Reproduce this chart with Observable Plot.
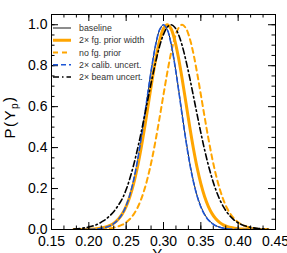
<!DOCTYPE html>
<html>
<head>
<meta charset="utf-8">
<script src="https://cdn.jsdelivr.net/npm/d3@7"></script>
<script src="https://cdn.jsdelivr.net/npm/@observablehq/plot@0.6"></script>
<style>
  body { margin: 0; background: #fff; }
  svg { overflow: visible; }
</style>
</head>
<body>
<div id="chart"></div>
<script>
// ---- data ----
const xs = [0.18,0.185,0.19,0.195,0.20,0.205,0.21,0.215,0.22,0.225,0.23,0.235,0.24,0.245,0.25,0.255,0.26,0.265,0.27,0.275,0.28,0.285,0.29,0.295,0.30,0.305,0.31,0.315,0.32,0.325,0.33,0.335,0.34,0.345,0.35,0.355,0.36,0.365,0.37,0.375,0.38,0.385,0.39,0.395,0.40,0.405,0.41,0.415,0.42,0.425,0.43,0.435,0.44];

const baseline = [0,0,0,0.0002,0.0005,0.001,0.002,0.004,0.007,0.012,0.019,0.031,0.048,0.075,0.113,0.166,0.238,0.329,0.439,0.562,0.690,0.810,0.911,0.977,1.0,0.977,0.911,0.810,0.690,0.562,0.439,0.329,0.238,0.166,0.113,0.075,0.048,0.031,0.019,0.012,0.007,0.004,0.002,0.001,0.0005,0.0002,0,0,0,0,0,0,0];

const fgWide = [0,0,0.0002,0.0005,0.001,0.002,0.0035,0.006,0.0096,0.0147,0.0227,0.0346,0.052,0.0775,0.113,0.161,0.224,0.3025,0.397,0.504,0.620,0.735,0.840,0.925,0.981,1.0,0.981,0.925,0.840,0.735,0.620,0.504,0.397,0.3025,0.224,0.161,0.113,0.0775,0.052,0.0346,0.0227,0.0147,0.0096,0.006,0.0035,0.002,0.001,0.0005,0.0002,0,0,0,0];

const noFgPrior = [0,0,0,0,0,0.0003,0.0006,0.0012,0.0022,0.004,0.0065,0.0105,0.0158,0.0235,0.0349,0.051,0.074,0.105,0.147,0.202,0.270,0.352,0.447,0.551,0.659,0.765,0.860,0.935,0.983,1.0,0.983,0.935,0.860,0.765,0.659,0.551,0.447,0.352,0.270,0.202,0.147,0.105,0.074,0.051,0.0349,0.0235,0.0158,0.0105,0.0065,0.004,0.0022,0.0012,0.0006];

const calib2x = [0,0,0,0.0002,0.0006,0.0012,0.0023,0.0045,0.008,0.013,0.021,0.033,0.051,0.078,0.116,0.170,0.242,0.333,0.443,0.565,0.692,0.811,0.911,0.977,1.0,0.976,0.909,0.807,0.686,0.557,0.434,0.324,0.234,0.163,0.110,0.073,0.047,0.030,0.018,0.011,0.0065,0.0037,0.002,0.001,0.0005,0.0002,0,0,0,0,0,0,0];

const beam2x = [0.002,0.0035,0.0055,0.0085,0.012,0.017,0.023,0.032,0.043,0.057,0.074,0.095,0.121,0.152,0.195,0.250,0.315,0.390,0.473,0.562,0.653,0.743,0.826,0.898,0.953,0.988,1.0,0.988,0.953,0.898,0.826,0.743,0.653,0.562,0.473,0.390,0.315,0.250,0.195,0.149,0.113,0.084,0.062,0.045,0.0326,0.0234,0.0167,0.0119,0.0085,0.0058,0.0038,0.0024,0.0014];

const seriesNames = ["baseline", "2\u00d7 fg. prior width", "no fg. prior", "2\u00d7 calib. uncert.", "2\u00d7 beam uncert."];
const seriesValues = [baseline, fgWide, noFgPrior, calib2x, beam2x];

const xTickValues = [0.15, 0.20, 0.25, 0.30, 0.35, 0.40, 0.45];
const yTickValues = [0.0, 0.2, 0.4, 0.6, 0.8, 1.0];

// ---- styles ----
const styles = [
  {stroke: "#1a1a1a", width: 1.0, dash: null},
  {stroke: "#FFA500", width: 3.0, dash: null},
  {stroke: "#FFA500", width: 2.0, dash: "5,4"},
  {stroke: "#1d56d6", width: 1.6, dash: "5,3"},
  {stroke: "#000000", width: 1.6, dash: "6,3,1.5,3"}
];

const rows = seriesNames.flatMap((name, i) => xs.map((x, j) => ({series: name, x, y: seriesValues[i][j]})));

const W = 287, H = 253, mL = 51, mR = 12, mT = 14, mB = 24;
const fw = W - mL - mR, fh = H - mT - mB;
const majorLen = 7, minorLen = 3.5;
const xMinor = d3.range(0, 19).map(i => 0.15 + i * 0.05 / 3);
const yMinor = d3.range(0, 22).map(i => i * 0.05).filter(v => v <= 1.05);

const lineMarks = seriesNames.map((name, i) => Plot.line(rows.filter(r => r.series === name), {
  x: "x", y: "y",
  stroke: styles[i].stroke,
  strokeWidth: styles[i].width,
  strokeDasharray: styles[i].dash,
  curve: "catmull-rom",
  clip: true
}));

const tickMarks = [
  Plot.tickX(xTickValues, {x: d => d, insetTop: fh - majorLen, stroke: "#000"}),
  Plot.tickX(xTickValues, {x: d => d, insetBottom: fh - majorLen, stroke: "#000"}),
  Plot.tickX(xMinor, {x: d => d, insetTop: fh - minorLen, stroke: "#000"}),
  Plot.tickX(xMinor, {x: d => d, insetBottom: fh - minorLen, stroke: "#000"}),
  Plot.tickY(yTickValues, {y: d => d, insetRight: fw - majorLen, stroke: "#000"}),
  Plot.tickY(yTickValues, {y: d => d, insetLeft: fw - majorLen, stroke: "#000"}),
  Plot.tickY(yMinor, {y: d => d, insetRight: fw - minorLen, stroke: "#000"}),
  Plot.tickY(yMinor, {y: d => d, insetLeft: fw - minorLen, stroke: "#000"})
];

const svg = Plot.plot({
  width: W, height: H,
  marginLeft: mL, marginRight: mR, marginTop: mT, marginBottom: mB,
  x: {domain: [0.15, 0.45]},
  y: {domain: [0, 1.05]},
  style: {fontFamily: "'Liberation Sans', Arial, Helvetica, sans-serif", fontSize: "14px", color: "#000", background: "#fff", overflow: "visible"},
  marks: [
    ...lineMarks,
    ...tickMarks,
    Plot.frame({stroke: "#000"}),
    Plot.axisX(xTickValues, {tickSize: 0, tickPadding: 7, tickFormat: d3.format(".2f"), label: null, fontSize: 14}),
    Plot.axisY(yTickValues, {tickSize: 0, tickPadding: 4, tickFormat: d3.format(".1f"), label: null, fontSize: 14})
  ]
});

document.getElementById("chart").appendChild(svg);

const s = d3.select(svg);

// legend
const lg = s.append("g").attr("font-family", "'Liberation Sans', Arial, sans-serif")
  .attr("font-size", 8.8).attr("text-anchor", "start");
seriesNames.forEach((name, i) => {
  const yy = 28 + i * 12.25;
  lg.append("line").attr("x1", 53).attr("x2", 71).attr("y1", yy).attr("y2", yy)
    .attr("stroke", styles[i].stroke).attr("stroke-width", styles[i].width)
    .attr("stroke-dasharray", styles[i].dash);
  lg.append("text").attr("x", 79).attr("y", yy).attr("dy", "0.35em")
    .attr("text-anchor", "start").attr("fill", "#333").text(name);
});

// y axis label P(Y_p)
const yl = s.append("text").attr("transform", "translate(15,117) rotate(-90)")
  .attr("text-anchor", "middle").attr("font-family", "'Liberation Sans', Arial, sans-serif")
  .attr("font-size", 15).attr("letter-spacing", 1.5).attr("fill", "#000");
yl.append("tspan").text("P(Y");
yl.append("tspan").attr("dy", "0.3em").attr("font-size", 10).text("p");
yl.append("tspan").attr("dy", "-0.3em").text(")");

// x axis label Y_p (mostly cut off at the bottom, as in the reference)
const xl = s.append("text").attr("x", 160).attr("y", 259)
  .attr("text-anchor", "middle").attr("font-family", "'Liberation Sans', Arial, sans-serif")
  .attr("font-size", 15).attr("fill", "#000");
xl.append("tspan").text("Y");
xl.append("tspan").attr("dy", "0.3em").attr("font-size", 10).text("p");
</script>
</body>
</html>
